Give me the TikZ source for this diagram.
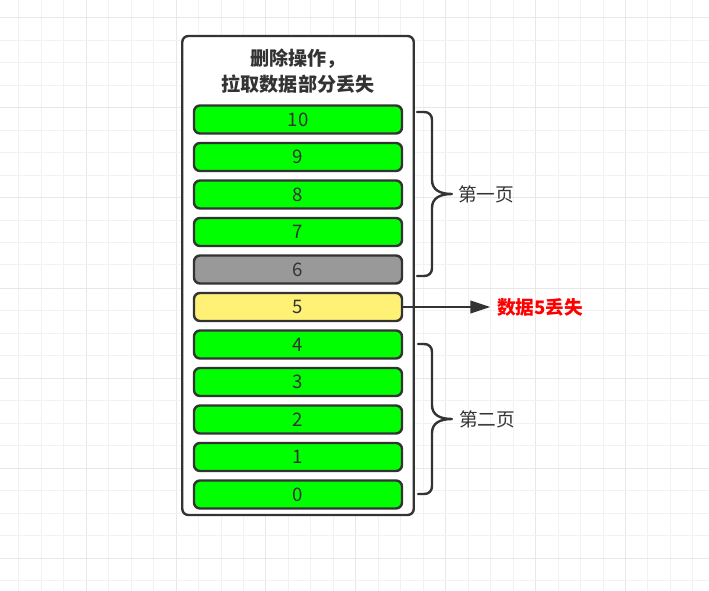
\documentclass[tikz,border=0pt]{standalone}
\usepackage{fontspec}
\setmainfont{Noto Sans CJK SC}
\usetikzlibrary{arrows.meta}
\definecolor{ink}{HTML}{333333}
\definecolor{gridminor}{HTML}{F2F2F2}
\definecolor{gridmajor}{HTML}{E8E8E8}
\definecolor{rowgreen}{HTML}{00FF00}
\definecolor{rowgray}{HTML}{999999}
\definecolor{rowyellow}{HTML}{FFF176}
\definecolor{lostred}{HTML}{FF0000}
\tikzset{
  rowbox/.style={draw=ink, line width=1.8pt, rounded corners=4.5pt,
    minimum width=156pt, minimum height=21pt, inner sep=0pt,
    font=\fontsize{14}{16}\selectfont, text=ink},
  framebox/.style={draw=ink, line width=1.8pt, rounded corners=4.5pt,
    fill=white, minimum width=173.6pt, minimum height=359.2pt, inner sep=0pt},
  bracepath/.style={draw=ink, line width=1.8pt, line cap=round, line join=round},
  pagelabel/.style={anchor=west, inner sep=0pt, text=ink, font=\fontsize{14}{16}\selectfont},
  titletext/.style={align=center, text=ink, inner sep=0pt, font=\bfseries\fontsize{14.3}{19.5}\selectfont},
  lostlabel/.style={anchor=west, inner sep=0pt, text=lostred, font=\bfseries\fontsize{14}{16}\selectfont},
  arrowline/.style={draw=ink, line width=1.5pt, -{Triangle[length=15pt,width=9.5pt]}},
  gridline/.style={line width=0.75pt},
}
\begin{document}
\begin{tikzpicture}[x=0.75pt,y=-0.75pt]
\useasboundingbox (0,0) rectangle (709,591);
\fill[white] (0,0) rectangle (709,591);
% grid
\foreach \i in {0,...,30} {
  \pgfmathtruncatemacro{\gx}{round(18.3+22.47*\i)}
  \pgfmathtruncatemacro{\m}{mod(\i,4)}
  \ifnum\m=3
    \draw[gridline, gridmajor] (\gx,0) -- (\gx,591);
  \else
    \draw[gridline, gridminor] (\gx,0) -- (\gx,591);
  \fi
}
\foreach \i in {0,...,25} {
  \pgfmathtruncatemacro{\gy}{round(18.3+22.47*\i)}
  \pgfmathtruncatemacro{\m}{mod(\i,4)}
  \ifnum\m=0
    \draw[gridline, gridmajor] (0,\gy) -- (709,\gy);
  \else
    \draw[gridline, gridminor] (0,\gy) -- (709,\gy);
  \fi
}
% frame
\node[framebox] (frame) at (298,275.5) {};
\node[titletext] (title) at (298,71) {删除操作，\\拉取数据部分丢失};
% rows
\foreach \n/\c [count=\i from 0] in {10/rowgreen,9/rowgreen,8/rowgreen,7/rowgreen,6/rowgray,5/rowyellow,4/rowgreen,3/rowgreen,2/rowgreen,1/rowgreen,0/rowgreen} {
  \node[rowbox, fill=\c] (r\n) at (298,119.5+37.5*\i) {\n};
}
% brace 1
\coordinate (b1t) at (417,112);
\coordinate (b1m) at (452,194);
\coordinate (b1b) at (417,276);
\draw[bracepath] (b1t) -- (424,112) .. controls (429,112) and (432,115) .. (432,120)
  -- (432,180) .. controls (432,190) and (440,194) .. (b1m)
  .. controls (440,194) and (432,198) .. (432,208)
  -- (432,268) .. controls (432,273) and (429,276) .. (424,276) -- (b1b);
\node[pagelabel] (p1) at (458,194) {第一页};
% brace 2
\coordinate (b2t) at (418,344);
\coordinate (b2m) at (452,419);
\coordinate (b2b) at (418,494);
\draw[bracepath] (b2t) -- (424,344) .. controls (429,344) and (432,347) .. (432,352)
  -- (432,405) .. controls (432,415) and (440,419) .. (b2m)
  .. controls (440,419) and (432,423) .. (432,433)
  -- (432,486) .. controls (432,491) and (429,494) .. (424,494) -- (b2b);
\node[pagelabel] (p2) at (459,419) {第二页};
% lost arrow
\node[lostlabel] (lost) at (497,307) {数据5丢失};
\draw[arrowline] (r5.east) -- ([xshift=-5pt]lost.west);
\end{tikzpicture}
\end{document}
